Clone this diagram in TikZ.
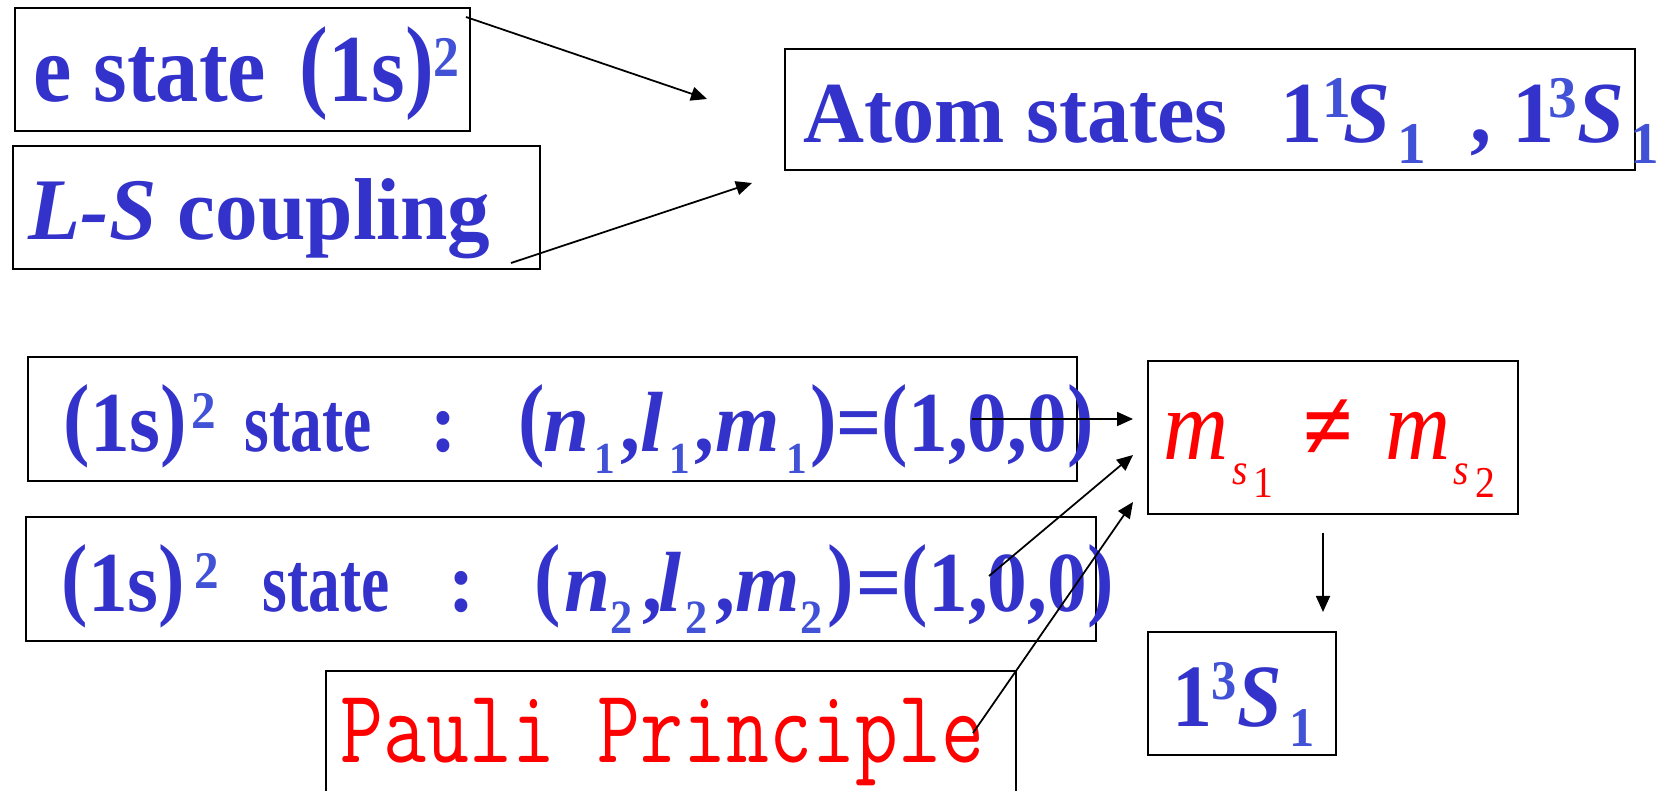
\documentclass[tikz,border=0pt]{standalone}
\usepackage{fontspec}
\setmainfont{Liberation Serif}
\newfontfamily\fA{Liberation Serif}[FakeStretch=0.97]
\newfontfamily\fB{Liberation Serif}[FakeStretch=0.93]
\newfontfamily\fC{Liberation Serif}[FakeStretch=0.90]
\usetikzlibrary{arrows.meta}
\definecolor{tb}{HTML}{3333CC}
\definecolor{tl}{HTML}{4152D6}
\definecolor{tr}{HTML}{FF0000}
\newlength\px \setlength\px{0.28453pt}
\newcommand\pc[2]{\makebox[#1\px][l]{#2}}
\newcommand\up[3]{\raisebox{#1\px}{\scalebox{#2}{#3}}}
\newcommand\iv[1]{{\fA\itshape #1}}
\newcommand\subx[2]{\up{-22}{#1}{\color{tl}#2}}
\newcommand\stt{\scalebox{0.8}[1]{state}}
\newcommand\lp{\raisebox{3\px}{\scalebox{1}[1.08]{(}}}
\newcommand\rp{\raisebox{3\px}{\scalebox{1}[1.08]{)}}}
\begin{document}
\begin{tikzpicture}[x=0.1mm,y=-0.1mm,
 box/.style={draw,line width=0.7pt,inner sep=0pt,anchor=north west},
 txt/.style={anchor=base west,inner sep=0pt,text=tb},
 arr/.style={line width=0.5pt,-{Triangle[length=1.6mm,width=1.4mm]}}]
\useasboundingbox (0,0) rectangle (1658,791);
% boxes
\node[box,minimum width=45.5mm,minimum height=12.3mm] (b1) at (14,7) {};
\node[box,minimum width=52.7mm,minimum height=12.3mm] (b2) at (12,145) {};
\node[box,minimum width=85.0mm,minimum height=12.1mm] (b3) at (784,48) {};
\node[box,minimum width=104.9mm,minimum height=12.4mm] (b4) at (27,356) {};
\node[box,minimum width=107.0mm,minimum height=12.4mm] (b5) at (25,516) {};
\node[box,minimum width=69.0mm,minimum height=14.0mm] (b6) at (325,670) {};
\node[box,minimum width=37.0mm,minimum height=15.3mm] (b7) at (1147,360) {};
\node[box,minimum width=18.8mm,minimum height=12.3mm] (b8) at (1147,631) {};
% texts
\node[txt,font=\fC\fontsize{27.3pt}{29pt}\selectfont\bfseries] (t1) at (33,102)
  {\pc{266}{e state}\lp 1s\rp\up{25}{0.6}{\color{tl}2}};
\node[txt,font=\fA\fontsize{25pt}{27pt}\selectfont\bfseries] (t2) at (28,240)
  {\textit{L-S} coupling};
\node[txt,font=\fA\fontsize{24.75pt}{26pt}\selectfont\bfseries] (t3) at (803,143)
  {\pc{477}{Atom states}\pc{42}{1}\pc{21}{\up{25}{0.68}{\color{tl}1}}\pc{54}{\textit{S}}\pc{73}{\up{-21}{0.68}{\color{tl}1}}\pc{42}{,}\pc{36}{1}\pc{29}{\up{25}{0.68}{\color{tl}3}}\pc{53}{\textit{S}}\up{-21}{0.68}{\color{tl}1}};
\node[txt,font=\fB\fontsize{24.3pt}{26pt}\selectfont\bfseries] (t4) at (63,452)
  {\pc{128}{\lp 1s\rp}\pc{53}{\up{23}{0.62}{\color{tl}2}}\pc{186}{\stt}\pc{88}{:}\pc{25}{\lp}\pc{51}{\iv{n}}\pc{26}{\subx{0.52}{1}}\pc{20}{,}\pc{29}{\iv{l}}\pc{25}{\subx{0.52}{1}}\pc{21}{,}\pc{71}{\iv{m}}\pc{24}{\subx{0.52}{1}}\pc{26}{\rp}=\lp 1,0,0\rp};
\node[txt,font=\fB\fontsize{24.3pt}{26pt}\selectfont\bfseries] (t5) at (61,612)
  {\pc{133}{\lp 1s\rp}\pc{68}{\up{23}{0.62}{\color{tl}2}}\pc{186}{\stt}\pc{86}{:}\pc{30}{\lp}\pc{46}{\iv{n}}\pc{32}{\subx{0.56}{2}}\pc{16}{,}\pc{27}{\iv{l}}\pc{30}{\subx{0.56}{2}}\pc{20}{,}\pc{65}{\iv{m}}\pc{27}{\subx{0.56}{2}}\pc{29}{\rp}=\lp 1,0,0\rp};
\node[anchor=base west,inner sep=0pt,text=tr] (t6) at (340,763)
  {\scalebox{1.03}[1.3]{\fontsize{23pt}{25pt}\selectfont\ttfamily Pauli Principle}};
\node[anchor=base west,inner sep=0pt,text=tr,font=\fC\fontsize{28.5pt}{30pt}\selectfont] (t7) at (1163,460)
  {\pc{69}{\textit{m}}\pc{21}{\up{-25}{0.44}{\textit{s}}}\pc{50}{\up{-38}{0.44}{1}}\pc{82}{\textbf{≠}}\pc{68}{\textit{m}}\pc{22}{\up{-25}{0.44}{\textit{s}}}\up{-38}{0.44}{2}};
\node[txt,font=\fC\fontsize{25.3pt}{27pt}\selectfont\bfseries] (t8) at (1172,727)
  {\pc{39}{1}\pc{26}{\up{27}{0.63}{\color{tl}3}}\pc{52}{\textit{S}}\up{-20}{0.63}{\color{tl}1}};
% connector ends
\coordinate (a1s) at (466,17);  \coordinate (a1e) at (707,99);
\coordinate (a2s) at (511,263); \coordinate (a2e) at (752,183);
\coordinate (a3s) at (972,419); \coordinate (a3e) at (1133,419);
\coordinate (a4s) at (989,576); \coordinate (a4e) at (1133,455);
\coordinate (a5s) at (973,733); \coordinate (a5e) at (1133,502);
\coordinate (a6s) at (1323,533); \coordinate (a6e) at (1323,612);
\draw[arr] (a1s) -- (a1e);
\draw[arr] (a2s) -- (a2e);
\draw[arr] (a3s) -- (a3e);
\draw[arr] (a4s) -- (a4e);
\draw[arr] (a5s) -- (a5e);
\draw[arr] (a6s) -- (a6e);
\end{tikzpicture}
\end{document}
